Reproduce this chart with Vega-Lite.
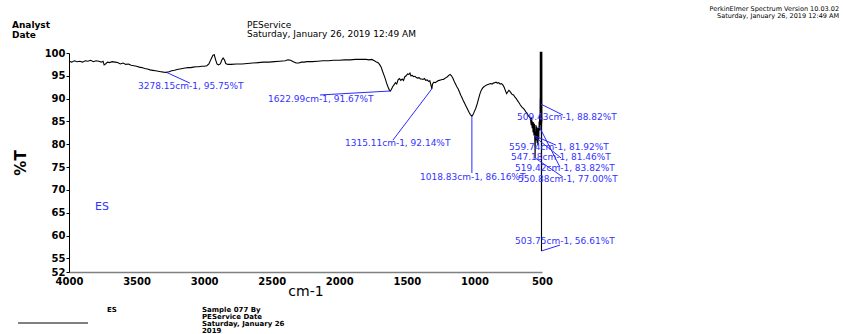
{
  "$schema": "https://vega.github.io/schema/vega-lite/v6.json",
  "width": 473,
  "height": 219,
  "autosize": {"type": "none"},
  "padding": {"left": 69, "top": 53, "right": 301, "bottom": 62},
  "background": "white",
  "config": {
    "view": {"stroke": null},
    "font": "DejaVu Sans",
    "axis": {"grid": false, "labelFont": "DejaVu Sans", "titleFont": "DejaVu Sans", "labelColor": "#000", "titleColor": "#000", "labelOverlap": false, "labelFlush": false}
  },
  "datasets": {
    "spectrum": [
      {"w":4000,"T":98.2},{"w":3980,"T":98.0},{"w":3960,"T":98.3},{"w":3940,"T":98.1},{"w":3920,"T":98.2},{"w":3900,"T":98.0},{"w":3880,"T":98.3},{"w":3860,"T":98.2},{"w":3840,"T":98.4},{"w":3820,"T":98.1},{"w":3800,"T":98.3},{"w":3780,"T":98.2},{"w":3760,"T":98.0},{"w":3748,"T":98.2},{"w":3740,"T":97.4},{"w":3730,"T":97.6},{"w":3715,"T":98.0},{"w":3700,"T":97.9},{"w":3680,"T":98.1},{"w":3660,"T":98.0},{"w":3640,"T":97.9},{"w":3620,"T":97.6},{"w":3600,"T":97.8},{"w":3580,"T":97.5},{"w":3560,"T":97.6},{"w":3540,"T":97.3},{"w":3520,"T":97.2},{"w":3500,"T":97.1},{"w":3480,"T":96.9},{"w":3460,"T":96.8},{"w":3440,"T":96.6},{"w":3420,"T":96.5},{"w":3400,"T":96.3},{"w":3380,"T":96.2},{"w":3360,"T":96.1},{"w":3340,"T":96.0},{"w":3320,"T":95.9},{"w":3300,"T":95.8},{"w":3278.15,"T":95.75},{"w":3260,"T":95.9},{"w":3240,"T":96.1},{"w":3220,"T":96.2},{"w":3200,"T":96.4},{"w":3180,"T":96.5},{"w":3160,"T":96.6},{"w":3140,"T":96.7},{"w":3120,"T":96.8},{"w":3100,"T":96.8},{"w":3080,"T":96.9},{"w":3060,"T":97.0},{"w":3040,"T":97.0},{"w":3020,"T":97.1},{"w":3000,"T":97.1},{"w":2980,"T":97.2},{"w":2965,"T":97.6},{"w":2950,"T":98.6},{"w":2935,"T":99.5},{"w":2925,"T":99.6},{"w":2915,"T":98.5},{"w":2905,"T":97.6},{"w":2895,"T":97.4},{"w":2880,"T":97.6},{"w":2870,"T":98.4},{"w":2860,"T":98.9},{"w":2850,"T":98.5},{"w":2840,"T":97.7},{"w":2825,"T":97.5},{"w":2800,"T":97.5},{"w":2760,"T":97.6},{"w":2720,"T":97.6},{"w":2680,"T":97.7},{"w":2640,"T":97.8},{"w":2600,"T":97.9},{"w":2560,"T":98.0},{"w":2520,"T":98.0},{"w":2480,"T":98.1},{"w":2440,"T":98.2},{"w":2400,"T":98.3},{"w":2380,"T":98.5},{"w":2360,"T":98.4},{"w":2340,"T":98.1},{"w":2320,"T":97.8},{"w":2300,"T":97.8},{"w":2280,"T":98.0},{"w":2260,"T":98.0},{"w":2240,"T":98.1},{"w":2200,"T":98.1},{"w":2160,"T":98.2},{"w":2120,"T":98.3},{"w":2080,"T":98.3},{"w":2040,"T":98.4},{"w":2000,"T":98.4},{"w":1960,"T":98.5},{"w":1920,"T":98.5},{"w":1880,"T":98.6},{"w":1840,"T":98.6},{"w":1800,"T":98.6},{"w":1780,"T":98.5},{"w":1760,"T":98.6},{"w":1740,"T":98.3},{"w":1725,"T":98.0},{"w":1710,"T":97.8},{"w":1700,"T":97.4},{"w":1690,"T":96.9},{"w":1680,"T":96.0},{"w":1670,"T":95.2},{"w":1660,"T":94.4},{"w":1650,"T":93.4},{"w":1640,"T":92.6},{"w":1630,"T":91.9},{"w":1622.99,"T":91.67},{"w":1615,"T":92.0},{"w":1605,"T":92.6},{"w":1595,"T":93.0},{"w":1585,"T":93.5},{"w":1575,"T":93.2},{"w":1565,"T":94.1},{"w":1555,"T":94.4},{"w":1545,"T":94.0},{"w":1535,"T":94.3},{"w":1525,"T":94.0},{"w":1515,"T":94.8},{"w":1505,"T":95.0},{"w":1495,"T":95.4},{"w":1485,"T":95.3},{"w":1477,"T":95.6},{"w":1470,"T":95.0},{"w":1460,"T":95.1},{"w":1450,"T":94.8},{"w":1440,"T":94.9},{"w":1430,"T":94.6},{"w":1420,"T":94.5},{"w":1410,"T":94.6},{"w":1400,"T":94.3},{"w":1390,"T":94.3},{"w":1380,"T":94.2},{"w":1370,"T":94.4},{"w":1360,"T":94.0},{"w":1350,"T":94.1},{"w":1340,"T":93.8},{"w":1330,"T":93.9},{"w":1320,"T":92.8},{"w":1315.11,"T":92.14},{"w":1310,"T":93.2},{"w":1300,"T":93.6},{"w":1290,"T":93.5},{"w":1280,"T":93.7},{"w":1270,"T":93.9},{"w":1260,"T":94.0},{"w":1250,"T":94.1},{"w":1240,"T":94.2},{"w":1230,"T":94.2},{"w":1220,"T":94.4},{"w":1210,"T":94.6},{"w":1200,"T":94.8},{"w":1190,"T":95.1},{"w":1180,"T":95.3},{"w":1170,"T":95.0},{"w":1160,"T":94.5},{"w":1150,"T":93.8},{"w":1140,"T":93.2},{"w":1130,"T":92.6},{"w":1120,"T":92.1},{"w":1110,"T":91.4},{"w":1100,"T":90.7},{"w":1090,"T":90.1},{"w":1080,"T":89.4},{"w":1070,"T":88.8},{"w":1060,"T":88.2},{"w":1050,"T":87.6},{"w":1040,"T":87.0},{"w":1030,"T":86.5},{"w":1018.83,"T":86.16},{"w":1010,"T":86.5},{"w":1000,"T":87.2},{"w":990,"T":87.9},{"w":980,"T":88.8},{"w":970,"T":89.9},{"w":960,"T":91.0},{"w":950,"T":91.8},{"w":940,"T":92.3},{"w":930,"T":92.6},{"w":920,"T":92.8},{"w":910,"T":93.0},{"w":900,"T":93.1},{"w":890,"T":93.2},{"w":880,"T":93.3},{"w":870,"T":93.2},{"w":860,"T":93.4},{"w":850,"T":93.5},{"w":840,"T":93.6},{"w":830,"T":93.4},{"w":820,"T":93.5},{"w":810,"T":93.2},{"w":800,"T":93.3},{"w":790,"T":93.0},{"w":780,"T":92.5},{"w":770,"T":91.7},{"w":762,"T":91.1},{"w":755,"T":91.4},{"w":745,"T":91.8},{"w":737,"T":91.6},{"w":728,"T":91.2},{"w":720,"T":90.9},{"w":710,"T":90.8},{"w":700,"T":90.3},{"w":690,"T":90.0},{"w":680,"T":89.5},{"w":670,"T":89.1},{"w":660,"T":88.6},{"w":650,"T":88.2},{"w":640,"T":87.9},{"w":630,"T":87.6},{"w":620,"T":87.1},{"w":610,"T":86.8},{"w":600,"T":86.2},{"w":590,"T":85.9},{"w":585,"T":85.5},{"w":580,"T":84.2},{"w":577,"T":85.8},{"w":573,"T":83.5},{"w":570,"T":85.0},{"w":566,"T":82.6},{"w":563,"T":84.8},{"w":559.74,"T":81.92},{"w":556,"T":84.5},{"w":553,"T":80.5},{"w":550.88,"T":77.0},{"w":549,"T":82.5},{"w":547.18,"T":81.46},{"w":545,"T":84.2},{"w":542,"T":80.8},{"w":539,"T":83.9},{"w":536,"T":80.2},{"w":533,"T":83.5},{"w":530,"T":79.8},{"w":527,"T":83.6},{"w":524,"T":81.0},{"w":521,"T":85.0},{"w":519.42,"T":83.82},{"w":517,"T":86.5},{"w":515,"T":83.0},{"w":514,"T":90.0},{"w":513.3,"T":84.5},{"w":512.6,"T":100.3},{"w":511.9,"T":84.3},{"w":511.2,"T":100.3},{"w":510.5,"T":84.3},{"w":509.9,"T":100.3},{"w":509.43,"T":88.82},{"w":508.8,"T":100.3},{"w":508.2,"T":84.2},{"w":507.6,"T":100.3},{"w":507.0,"T":84.2},{"w":506.4,"T":100.3},{"w":505.8,"T":84.2},{"w":505.2,"T":100.3},{"w":504.6,"T":84.0},{"w":504.2,"T":70.0},{"w":503.75,"T":56.61},{"w":503.3,"T":72.0},{"w":502.9,"T":84.2},{"w":502.4,"T":100.3},{"w":501.8,"T":84.5},{"w":501.2,"T":100.3},{"w":500.6,"T":85.0},{"w":500,"T":86.0}
    ],
    "leaders": [
      {"w":3278.15,"T":95.75,"w2":3105,"T2":93.4},
      {"w":1622.99,"T":91.67,"w2":2143,"T2":90.8},
      {"w":1315.11,"T":92.14,"w2":1603,"T2":80.9},
      {"w":1018.83,"T":86.16,"w2":1018.83,"T2":73.7},
      {"w":509.43,"T":88.82,"w2":345,"T2":86.4},
      {"w":559.74,"T":81.92,"w2":396,"T2":79.8},
      {"w":547.18,"T":81.46,"w2":359,"T2":77.0},
      {"w":519.42,"T":83.82,"w2":367,"T2":75.0},
      {"w":550.88,"T":77.0,"w2":345,"T2":72.8},
      {"w":503.75,"T":56.61,"w2":367,"T2":57.9}
    ],
    "peakLabels": [
      {"label":"3278.15cm-1, 95.75%T","w":3489,"T":92.77},
      {"label":"1622.99cm-1, 91.67%T","w":2527,"T":89.92},
      {"label":"1315.11cm-1, 92.14%T","w":1958,"T":80.27},
      {"label":"1018.83cm-1, 86.16%T","w":1403,"T":72.82},
      {"label":"509.43cm-1, 88.82%T","w":685,"T":85.97},
      {"label":"559.74cm-1, 81.92%T","w":744,"T":79.4},
      {"label":"547.18cm-1, 81.46%T","w":729,"T":77.21},
      {"label":"519.42cm-1, 83.82%T","w":700,"T":74.79},
      {"label":"550.88cm-1, 77.00%T","w":678,"T":72.38},
      {"label":"503.75cm-1, 56.61%T","w":700,"T":58.79}
    ],
    "sampleName": [{"label":"ES","w":3808,"T":66.25}],
    "headerLeft": [
      {"label":"Analyst","w":4422,"T":106.14},
      {"label":"Date","w":4422,"T":103.95}
    ],
    "headerMid": [
      {"label":"PEService","w":2683,"T":106.14},
      {"label":"Saturday, January 26, 2019 12:49 AM","w":2683,"T":104.16}
    ],
    "headerRight": [
      {"label":"PerkinElmer Spectrum Version 10.03.02","w":-1698,"T":109.64},
      {"label":"Saturday, January 26, 2019 12:49 AM","w":-1698,"T":108.11}
    ],
    "footer": [
      {"label":"ES","w":3719,"T":43.67},
      {"label":"Sample 077 By","w":3016,"T":43.67},
      {"label":"PEService Date","w":3016,"T":42.14},
      {"label":"Saturday, January 26","w":3016,"T":40.6},
      {"label":"2019","w":3016,"T":39.07}
    ],
    "footerLine": [{"w":4377,"T":40.82,"w2":3859,"T2":40.82}]
  },
  "encoding": {
    "x": {"field": "w", "type": "quantitative",
      "scale": {"domain": [4000, 500], "nice": false, "zero": false},
      "axis": {"values": [4000,3500,3000,2500,2000,1500,1000,500], "format": "d", "title": "cm-1", "titleFontSize": 14, "titleFontWeight": "normal", "titlePadding": -2,
        "labelFontSize": 10, "labelFontWeight": "bold", "tickSize": 0, "labelPadding": 4, "domainColor": "#808080", "domainWidth": 1.5, "labelFlush": false, "labelOverlap": false}},
    "y": {"field": "T", "type": "quantitative",
      "scale": {"domain": [52, 100], "nice": false, "zero": false},
      "axis": {"values": [52,55,60,65,70,75,80,85,90,95,100], "format": "d", "title": "%T", "titleFontSize": 15, "titleFontWeight": "bold", "titlePadding": 16,
        "labelFontSize": 10, "labelFontWeight": "bold", "tickSize": 3, "labelPadding": 1, "domainColor": "#000", "tickColor": "#000", "labelOverlap": false, "labelFlush": false}}
  },
  "layer": [
    {
      "data": {"name": "spectrum"},
      "mark": {"type": "line", "color": "#000", "strokeWidth": 1.1}
    },
    {
      "data": {"name": "leaders"},
      "mark": {"type": "rule", "color": "#2a2aff", "strokeWidth": 1},
      "encoding": {
        "x2": {"field": "w2"},
        "y2": {"field": "T2"}
      }
    },
    {
      "data": {"name": "peakLabels"},
      "mark": {"type": "text", "align": "left", "baseline": "middle", "fontSize": 9, "color": "#3333ff", "font": "DejaVu Sans"},
      "encoding": {"text": {"field": "label"}}
    },
    {
      "data": {"name": "sampleName"},
      "mark": {"type": "text", "align": "left", "baseline": "middle", "fontSize": 11, "color": "#3333ff", "font": "DejaVu Sans"},
      "encoding": {"text": {"field": "label"}}
    },
    {
      "data": {"name": "headerLeft"},
      "mark": {"type": "text", "align": "left", "baseline": "middle", "fontSize": 9, "fontWeight": "bold", "color": "#000", "font": "DejaVu Sans"},
      "encoding": {"text": {"field": "label"}}
    },
    {
      "data": {"name": "headerMid"},
      "mark": {"type": "text", "align": "left", "baseline": "middle", "fontSize": 9, "color": "#000", "font": "DejaVu Sans"},
      "encoding": {"text": {"field": "label"}}
    },
    {
      "data": {"name": "headerRight"},
      "mark": {"type": "text", "align": "right", "baseline": "middle", "fontSize": 6.5, "color": "#000", "font": "DejaVu Sans"},
      "encoding": {"text": {"field": "label"}}
    },
    {
      "data": {"name": "footer"},
      "mark": {"type": "text", "align": "left", "baseline": "middle", "fontSize": 7, "fontWeight": "bold", "color": "#000", "font": "DejaVu Sans"},
      "encoding": {"text": {"field": "label"}}
    },
    {
      "data": {"name": "footerLine"},
      "mark": {"type": "rule", "color": "#000", "strokeWidth": 1},
      "encoding": {
        "x2": {"field": "w2"},
        "y2": {"field": "T2"}
      }
    }
  ]
}
